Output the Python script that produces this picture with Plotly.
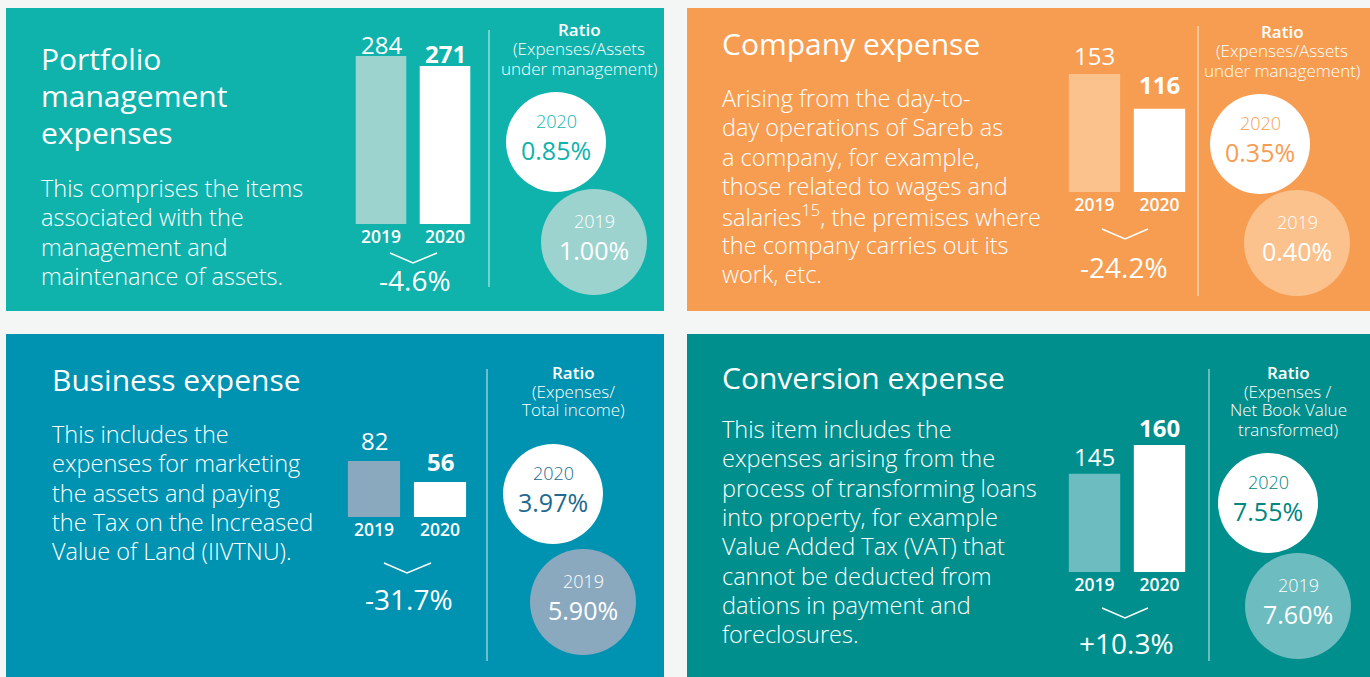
import plotly.graph_objects as go

# ─── Data ─────────────────────────────────────────────────────────────────────
YEARS = ["2019", "2020"]
EXPENSE_2019 = [284, 153, 82, 145]
EXPENSE_2020 = [271, 116, 56, 160]
CHANGE_LABELS = ["-4.6%", "-24.2%", "-31.7%", "+10.3%"]
RATIO_2019 = ["1.00%", "0.40%", "5.90%", "7.60%"]
RATIO_2020 = ["0.85%", "0.35%", "3.97%", "7.55%"]

TITLES = [
    ["Portfolio", "management", "expenses"],
    ["Company expense"],
    ["Business expense"],
    ["Conversion expense"],
]
DESCRIPTIONS = [
    ["This comprises the items", "associated with the", "management and",
     "maintenance of assets."],
    ["Arising from the day-to-", "day operations of Sareb as", "a company, for example,",
     "those related to wages and", "salaries<sup>15</sup>, the premises where",
     "the company carries out its", "work, etc."],
    ["This includes the", "expenses for marketing", "the assets and paying",
     "the Tax on the Increased", "Value of Land (IIVTNU)."],
    ["This item includes the", "expenses arising from the", "process of transforming loans",
     "into property, for example", "Value Added Tax (VAT) that", "cannot be deducted from",
     "dations in payment and", "foreclosures."],
]
RATIO_HEADERS = [
    ["Ratio", "(Expenses/Assets", "under management)"],
    ["Ratio", "(Expenses/Assets", "under management)"],
    ["Ratio", "(Expenses/", "Total income)"],
    ["Ratio", "(Expenses /", "Net Book Value", "transformed)"],
]

# ─── Theme / layout (pixels in a 1370x677 page) ───────────────────────────────
W, H = 1370, 677
PAGE_BG = "#f4f5f5"
FONT = "Open Sans"
WHITE = "#ffffff"

STYLE = [
    dict(bg="#10b2ac", soft="#9dd3cf", ink="#10b2ac",
         box=(6, 8, 664, 311), title=(40, 58, 37.5), desc=(40, 188),
         bars_x=(349, 477), base=224, top=56, lo=66, lab_off=(11.5, 12.5),
         chev=(390, 253, 413, 263, 437), change=(415, 280),
         div=(489, 30, 287), hdr=(579, 30),
         c20=(556, 142, 50), c19=(594, 242, 53)),
    dict(bg="#f79d51", soft="#fbc28e", ink="#f79d51",
         box=(687, 8, 1370, 311), title=(721, 43, 37.5), desc=(721, 98),
         bars_x=(1062, 1192), base=192, top=74, lo=27, lab_off=(18, 24),
         chev=(1102, 229, 1125, 239, 1148), change=(1124, 267),
         div=(1198, 26, 296), hdr=(1282, 32),
         c20=(1260, 144, 50), c19=(1297, 243, 53)),
    dict(bg="#0092b1", soft="#8aa9bf", ink="#22698f",
         box=(6, 334, 664, 677), title=(51, 380, 37.5), desc=(51, 434),
         bars_x=(341, 473), base=517, top=461, lo=13, lab_off=(20.5, 21),
         chev=(384, 563, 407, 573, 431), change=(409, 599),
         div=(487, 369, 661), hdr=(573, 372),
         c20=(553, 494, 50), c19=(583, 602, 53)),
    dict(bg="#008f8d", soft="#6dbcbf", ink="#008580",
         box=(687, 334, 1370, 677), title=(721, 377, 37.5), desc=(721, 429),
         bars_x=(1062, 1192), base=572, top=445, lo=94, lab_off=(17.5, 17.5),
         chev=(1102, 608, 1125, 618, 1148), change=(1126, 643),
         div=(1209, 369, 661), hdr=(1288, 372),
         c20=(1268, 503, 50), c19=(1298, 606, 53)),
]


def fx(px):
    return px / W


def fy(py):
    return 1 - py / H


annotations = []
shapes = []


def text(x, y, s, size, color=WHITE, anchor="left", weight=400):
    annotations.append(dict(
        x=fx(x), y=fy(y), xref="paper", yref="paper", text=s, showarrow=False,
        xanchor=anchor, yanchor="middle", borderpad=0,
        font=dict(family=FONT, size=size, color=color, weight=weight),
    ))


def lines(x, y0, step, rows, size, color=WHITE, anchor="left", weight=400):
    for i, row in enumerate(rows):
        text(x, y0 + i * step, row, size, color, anchor, weight)


fig = go.Figure()
layout_axes = {}
slots = list(range(len(YEARS)))  # bar slot per year on the x axis

for i, st in enumerate(STYLE):
    n = "" if i == 0 else str(i + 1)

    # panel card
    x0, y0, x1, y1 = st["box"]
    shapes.append(dict(type="rect", xref="paper", yref="paper", layer="below",
                       x0=fx(x0), x1=fx(x1), y0=fy(y1), y1=fy(y0),
                       fillcolor=st["bg"], line=dict(width=0)))

    # bars
    vals = [EXPENSE_2019[i], EXPENSE_2020[i]]
    fig.add_trace(go.Bar(
        x=slots, y=vals, width=0.79,
        marker=dict(color=[st["soft"], WHITE], line=dict(width=0)),
        xaxis="x" + n, yaxis="y" + n, hoverinfo="skip", showlegend=False,
    ))
    layout_axes["xaxis" + n] = dict(
        domain=[fx(st["bars_x"][0]), fx(st["bars_x"][1])], anchor="y" + n,
        range=[-0.5, len(YEARS) - 0.5], autorange=False, automargin=False,
        showgrid=False, zeroline=False, showline=False, ticks="", tickangle=0,
        tickvals=slots, ticktext=YEARS, fixedrange=True,
        tickfont=dict(family=FONT, size=17.5, color=WHITE, weight=600),
    )
    layout_axes["yaxis" + n] = dict(
        domain=[fy(st["base"]), fy(st["top"])], anchor="x" + n,
        range=[st["lo"], max(vals)], autorange=False, automargin=False,
        visible=False, fixedrange=True,
    )
    for j, v in enumerate(vals):
        annotations.append(dict(
            x=slots[j], y=v, xref="x" + n, yref="y" + n,
            text=str(v) if j == 0 else f"<b>{v}</b>",
            showarrow=False, yanchor="middle", yshift=st["lab_off"][j],
            font=dict(family=FONT, size=24, color=WHITE, weight=400 if j == 0 else 700),
        ))

    # chevron + change
    a, b, c, d, e = st["chev"]
    shapes.append(dict(type="path", xref="paper", yref="paper",
                       path=f"M {fx(a)},{fy(b)} L {fx(c)},{fy(d)} L {fx(e)},{fy(b)}",
                       line=dict(color=WHITE, width=1.5)))
    text(st["change"][0], st["change"][1], CHANGE_LABELS[i], 28, anchor="center", weight=500)

    # divider
    dx, dy0, dy1 = st["div"]
    shapes.append(dict(type="line", xref="paper", yref="paper",
                       x0=fx(dx), x1=fx(dx), y0=fy(dy0), y1=fy(dy1),
                       line=dict(color="rgba(255,255,255,0.7)", width=1.2)))

    # titles & descriptions
    tx, ty, tstep = st["title"]
    lines(tx, ty, tstep, TITLES[i], 30)
    lines(st["desc"][0], st["desc"][1], 29.3, DESCRIPTIONS[i], 23.5, weight=300)

    # ratio header
    hx, hy = st["hdr"]
    text(hx, hy, RATIO_HEADERS[i][0], 17, anchor="center", weight=600)
    lines(hx, hy + 19, 19, RATIO_HEADERS[i][1:], 17, anchor="center", weight=300)

    # ratio circles
    for (cx, cy, r), fill, ink, yr, val in [
        (st["c20"], WHITE, st["ink"], "2020", RATIO_2020[i]),
        (st["c19"], st["soft"], WHITE, "2019", RATIO_2019[i]),
    ]:
        shapes.append(dict(type="circle", xref="paper", yref="paper",
                           x0=fx(cx - r), x1=fx(cx + r), y0=fy(cy + r), y1=fy(cy - r),
                           fillcolor=fill, line=dict(width=0)))
        text(cx, cy - 21, yr, 18, color=ink, anchor="center", weight=300)
        text(cx, cy + 8, val, 25, color=ink, anchor="center", weight=500)

fig.update_layout(
    width=W, height=H,
    margin=dict(l=0, r=0, t=0, b=0, autoexpand=False),
    paper_bgcolor=PAGE_BG, plot_bgcolor="rgba(0,0,0,0)",
    font=dict(family=FONT, color=WHITE),
    showlegend=False,
    shapes=shapes, annotations=annotations,
    **layout_axes,
)

fig.write_html("out.html", config=dict(displayModeBar=False),
               post_script="document.body.style.margin='0';document.body.style.overflow='hidden';")
